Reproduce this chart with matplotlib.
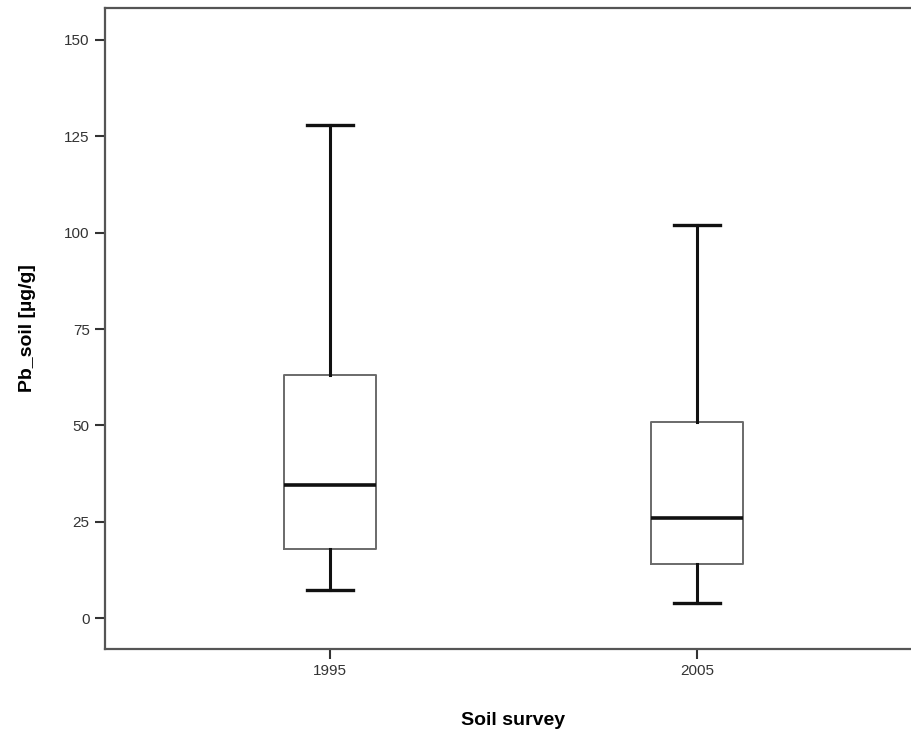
import matplotlib
matplotlib.use('Agg')
import matplotlib.pyplot as plt

# survey years and box statistics for Pb in soil
surveys = ['1995', '2005']
whisker_low = [7.2, 4.0]
q1 = [18.0, 14.0]
median = [34.6, 26.0]
q3 = [63.0, 51.0]
whisker_high = [128.0, 102.0]
yticks = [0, 25, 50, 75, 100, 125, 150]

plt.rcParams['font.family'] = ['Liberation Sans', 'DejaVu Sans']

stats = []
for i, name in enumerate(surveys):
    stats.append({'label': name, 'whislo': whisker_low[i], 'q1': q1[i],
                  'med': median[i], 'q3': q3[i], 'whishi': whisker_high[i],
                  'fliers': []})

fig = plt.figure(figsize=(9.12, 7.32), dpi=100)
ax = fig.add_axes([105/912, 83/732, 817/912, 641/732])

ax.bxp(stats, positions=[1, 2], widths=0.25, showfliers=False,
       boxprops=dict(color='#6a6a6a', linewidth=1.4),
       whiskerprops=dict(color='#111111', linewidth=2.2),
       capprops=dict(color='#111111', linewidth=2.4),
       medianprops=dict(color='#111111', linewidth=2.6),
       capwidths=0.125)

ax.set_xlim(0.387, 2.613)
ax.set_ylim(-8, 158.3)
ax.set_yticks(yticks)
ax.set_xticks([1, 2])
ax.set_xticklabels(surveys)

for s in ax.spines.values():
    s.set_color('#555555')
    s.set_linewidth(1.6)
ax.spines['right'].set_visible(False)

ax.tick_params(axis='both', direction='out', length=7, width=1.5,
               color='#333333', labelsize=11, labelcolor='#333333', pad=4)

ax.set_xlabel('Soil survey', fontsize=14, fontweight='bold', labelpad=24)
ax.set_ylabel('Pb_soil [µg/g]', fontsize=14, fontweight='bold', labelpad=20)

plt.savefig('out.png', dpi=100)
